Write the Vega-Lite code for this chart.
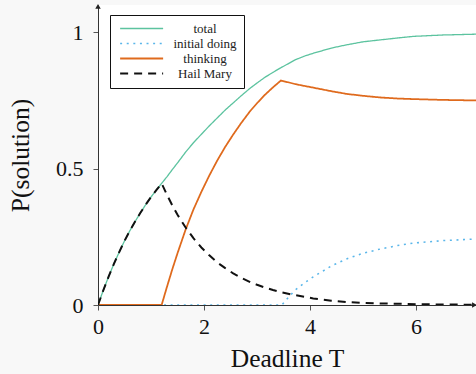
{
  "$schema": "https://vega.github.io/schema/vega-lite/v6.json",
  "width": 378,
  "height": 300,
  "autosize": {"type": "none"},
  "padding": {"left": 98, "top": 5, "right": 0, "bottom": 69},
  "background": "#f8f8f8",
  "config": {
    "view": {"fill": "white", "stroke": null},
    "font": "Liberation Serif",
    "axis": {
      "grid": false,
      "domainColor": "#333333",
      "domainWidth": 1,
      "tickColor": "#555555",
      "tickSize": 5,
      "labelFont": "Liberation Serif",
      "labelFontSize": 22,
      "labelColor": "#111111",
      "titleFont": "Liberation Serif",
      "titleFontSize": 25.5,
      "titleFontWeight": "normal",
      "titleColor": "#111111"
    },
    "legend": {
      "orient": "none",
      "legendX": 12,
      "legendY": 10,
      "strokeColor": "#111111",
      "fillColor": "white",
      "padding": 7,
      "labelFont": "Liberation Serif",
      "labelFontSize": 13,
      "labelColor": "#222222",
      "labelAlign": "center",
      "symbolType": "M-0.63,0L7.39,0",
      "symbolSize": 115,
      "symbolFillColor": "transparent",
      "rowPadding": 1,
      "labelOffset": 75
    }
  },
  "datasets": {
    "curves": [
      {"T": 0, "P": 0, "series": "total"},
      {"T": 0.1, "P": 0.054, "series": "total"},
      {"T": 0.2, "P": 0.104, "series": "total"},
      {"T": 0.3, "P": 0.151, "series": "total"},
      {"T": 0.4, "P": 0.194, "series": "total"},
      {"T": 0.5, "P": 0.235, "series": "total"},
      {"T": 0.6, "P": 0.272, "series": "total"},
      {"T": 0.7, "P": 0.306, "series": "total"},
      {"T": 0.8, "P": 0.338, "series": "total"},
      {"T": 0.9, "P": 0.368, "series": "total"},
      {"T": 1.0, "P": 0.396, "series": "total"},
      {"T": 1.1, "P": 0.421, "series": "total"},
      {"T": 1.2, "P": 0.446, "series": "total"},
      {"T": 1.3, "P": 0.47, "series": "total"},
      {"T": 1.4, "P": 0.496, "series": "total"},
      {"T": 1.5, "P": 0.521, "series": "total"},
      {"T": 1.65, "P": 0.56, "series": "total"},
      {"T": 1.8, "P": 0.595, "series": "total"},
      {"T": 1.95, "P": 0.626, "series": "total"},
      {"T": 2.1, "P": 0.657, "series": "total"},
      {"T": 2.25, "P": 0.686, "series": "total"},
      {"T": 2.4, "P": 0.715, "series": "total"},
      {"T": 2.55, "P": 0.741, "series": "total"},
      {"T": 2.7, "P": 0.767, "series": "total"},
      {"T": 2.87, "P": 0.795, "series": "total"},
      {"T": 3.0, "P": 0.814, "series": "total"},
      {"T": 3.15, "P": 0.835, "series": "total"},
      {"T": 3.3, "P": 0.853, "series": "total"},
      {"T": 3.45, "P": 0.87, "series": "total"},
      {"T": 3.6, "P": 0.886, "series": "total"},
      {"T": 3.72, "P": 0.899, "series": "total"},
      {"T": 3.9, "P": 0.913, "series": "total"},
      {"T": 4.06, "P": 0.923, "series": "total"},
      {"T": 4.4, "P": 0.942, "series": "total"},
      {"T": 4.69, "P": 0.954, "series": "total"},
      {"T": 5.0, "P": 0.965, "series": "total"},
      {"T": 5.32, "P": 0.972, "series": "total"},
      {"T": 5.65, "P": 0.979, "series": "total"},
      {"T": 5.95, "P": 0.985, "series": "total"},
      {"T": 6.5, "P": 0.99, "series": "total"},
      {"T": 7.13, "P": 0.993, "series": "total"},

      {"T": 0, "P": 0, "series": "initial doing"},
      {"T": 3.47, "P": 0, "series": "initial doing"},
      {"T": 3.6, "P": 0.03, "series": "initial doing"},
      {"T": 3.72, "P": 0.055, "series": "initial doing"},
      {"T": 3.9, "P": 0.082, "series": "initial doing"},
      {"T": 4.06, "P": 0.103, "series": "initial doing"},
      {"T": 4.4, "P": 0.143, "series": "initial doing"},
      {"T": 4.69, "P": 0.169, "series": "initial doing"},
      {"T": 5.0, "P": 0.19, "series": "initial doing"},
      {"T": 5.32, "P": 0.205, "series": "initial doing"},
      {"T": 5.65, "P": 0.218, "series": "initial doing"},
      {"T": 5.95, "P": 0.227, "series": "initial doing"},
      {"T": 6.5, "P": 0.236, "series": "initial doing"},
      {"T": 7.13, "P": 0.242, "series": "initial doing"},

      {"T": 0, "P": 0, "series": "thinking"},
      {"T": 1.2, "P": 0, "series": "thinking"},
      {"T": 1.3, "P": 0.066, "series": "thinking"},
      {"T": 1.4, "P": 0.13, "series": "thinking"},
      {"T": 1.5, "P": 0.19, "series": "thinking"},
      {"T": 1.65, "P": 0.275, "series": "thinking"},
      {"T": 1.8, "P": 0.35, "series": "thinking"},
      {"T": 1.95, "P": 0.415, "series": "thinking"},
      {"T": 2.1, "P": 0.475, "series": "thinking"},
      {"T": 2.25, "P": 0.53, "series": "thinking"},
      {"T": 2.4, "P": 0.58, "series": "thinking"},
      {"T": 2.55, "P": 0.625, "series": "thinking"},
      {"T": 2.7, "P": 0.667, "series": "thinking"},
      {"T": 2.87, "P": 0.711, "series": "thinking"},
      {"T": 3.0, "P": 0.74, "series": "thinking"},
      {"T": 3.15, "P": 0.771, "series": "thinking"},
      {"T": 3.3, "P": 0.798, "series": "thinking"},
      {"T": 3.45, "P": 0.823, "series": "thinking"},
      {"T": 3.6, "P": 0.816, "series": "thinking"},
      {"T": 3.72, "P": 0.81, "series": "thinking"},
      {"T": 3.9, "P": 0.803, "series": "thinking"},
      {"T": 4.06, "P": 0.797, "series": "thinking"},
      {"T": 4.4, "P": 0.784, "series": "thinking"},
      {"T": 4.69, "P": 0.774, "series": "thinking"},
      {"T": 5.0, "P": 0.767, "series": "thinking"},
      {"T": 5.32, "P": 0.761, "series": "thinking"},
      {"T": 5.65, "P": 0.757, "series": "thinking"},
      {"T": 5.95, "P": 0.755, "series": "thinking"},
      {"T": 6.5, "P": 0.752, "series": "thinking"},
      {"T": 7.13, "P": 0.75, "series": "thinking"},

      {"T": 0, "P": 0, "series": "Hail Mary"},
      {"T": 0.1, "P": 0.054, "series": "Hail Mary"},
      {"T": 0.2, "P": 0.104, "series": "Hail Mary"},
      {"T": 0.3, "P": 0.151, "series": "Hail Mary"},
      {"T": 0.4, "P": 0.194, "series": "Hail Mary"},
      {"T": 0.5, "P": 0.235, "series": "Hail Mary"},
      {"T": 0.6, "P": 0.272, "series": "Hail Mary"},
      {"T": 0.7, "P": 0.306, "series": "Hail Mary"},
      {"T": 0.8, "P": 0.338, "series": "Hail Mary"},
      {"T": 0.9, "P": 0.368, "series": "Hail Mary"},
      {"T": 1.0, "P": 0.396, "series": "Hail Mary"},
      {"T": 1.1, "P": 0.421, "series": "Hail Mary"},
      {"T": 1.2, "P": 0.446, "series": "Hail Mary"},
      {"T": 1.3, "P": 0.404, "series": "Hail Mary"},
      {"T": 1.4, "P": 0.366, "series": "Hail Mary"},
      {"T": 1.5, "P": 0.331, "series": "Hail Mary"},
      {"T": 1.65, "P": 0.285, "series": "Hail Mary"},
      {"T": 1.8, "P": 0.245, "series": "Hail Mary"},
      {"T": 1.95, "P": 0.211, "series": "Hail Mary"},
      {"T": 2.1, "P": 0.182, "series": "Hail Mary"},
      {"T": 2.25, "P": 0.156, "series": "Hail Mary"},
      {"T": 2.4, "P": 0.135, "series": "Hail Mary"},
      {"T": 2.55, "P": 0.116, "series": "Hail Mary"},
      {"T": 2.7, "P": 0.1, "series": "Hail Mary"},
      {"T": 2.87, "P": 0.084, "series": "Hail Mary"},
      {"T": 3.0, "P": 0.074, "series": "Hail Mary"},
      {"T": 3.15, "P": 0.064, "series": "Hail Mary"},
      {"T": 3.3, "P": 0.055, "series": "Hail Mary"},
      {"T": 3.45, "P": 0.047, "series": "Hail Mary"},
      {"T": 3.72, "P": 0.036, "series": "Hail Mary"},
      {"T": 4.06, "P": 0.024, "series": "Hail Mary"},
      {"T": 4.4, "P": 0.016, "series": "Hail Mary"},
      {"T": 4.69, "P": 0.011, "series": "Hail Mary"},
      {"T": 5.0, "P": 0.008, "series": "Hail Mary"},
      {"T": 5.3, "P": 0.006, "series": "Hail Mary"},
      {"T": 6.0, "P": 0.003, "series": "Hail Mary"},
      {"T": 6.5, "P": 0.002, "series": "Hail Mary"},
      {"T": 7.13, "P": 0.001, "series": "Hail Mary"}
    ],
    "arrows": [
      {"T": 7.1, "P": 0, "shape": "right"},
      {"T": 0, "P": 1.095, "shape": "up"}
    ]
  },
  "layer": [
    {
      "data": {"name": "curves"},
      "mark": {"type": "line", "clip": true, "strokeCap": "butt"},
      "encoding": {
        "x": {
          "field": "T", "type": "quantitative",
          "scale": {"domain": [0, 7.13], "nice": false, "zero": false},
          "axis": {"values": [0, 2, 4, 6], "title": "Deadline T", "labelPadding": 6, "titlePadding": 9, "labelFlush": false, "labelFont": "Liberation Serif", "titleFont": "Liberation Serif"}
        },
        "y": {
          "field": "P", "type": "quantitative",
          "scale": {"domain": [0, 1.1], "nice": false},
          "axis": {"values": [0, 0.5, 1], "format": "~g", "title": "P(solution)", "labelPadding": 10, "titlePadding": 22, "labelFlush": false, "labelFont": "Liberation Serif", "titleFont": "Liberation Serif"}
        },
        "color": {
          "field": "series", "type": "nominal",
          "scale": {"domain": ["total", "initial doing", "thinking", "Hail Mary"], "range": ["#5cc39f", "#5ab6ea", "#df6a1d", "#111111"]},
          "legend": {"title": null}
        },
        "strokeDash": {
          "field": "series", "type": "nominal",
          "scale": {"domain": ["total", "initial doing", "thinking", "Hail Mary"], "range": [[1, 0], [2, 4.6], [1, 0], [8, 6]]},
          "legend": {"title": null}
        },
        "strokeWidth": {
          "field": "series", "type": "nominal",
          "scale": {"domain": ["total", "initial doing", "thinking", "Hail Mary"], "range": [1.3, 2, 2, 2]},
          "legend": {"title": null}
        },
        "order": {"field": "T", "type": "quantitative"}
      }
    },
    {
      "data": {"name": "arrows"},
      "mark": {"type": "point", "filled": true, "color": "#222222", "size": 30, "opacity": 1},
      "encoding": {
        "x": {"field": "T", "type": "quantitative"},
        "y": {"field": "P", "type": "quantitative"},
        "shape": {
          "field": "shape", "type": "nominal",
          "scale": {"domain": ["right", "up"], "range": ["triangle-right", "triangle-up"]},
          "legend": null
        }
      }
    }
  ]
}
